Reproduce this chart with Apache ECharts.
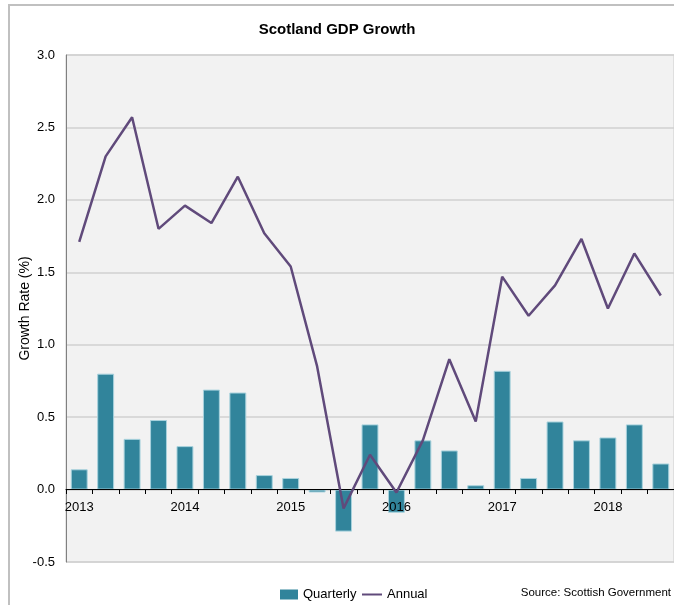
<!DOCTYPE html>
<html>
<head>
<meta charset="utf-8">
<script src="https://cdn.jsdelivr.net/npm/echarts@6/dist/echarts.min.js"></script>
<style>
    html, body { margin: 0; padding: 0; background: #fff; }
    #chart { width: 674px; height: 605px; }
</style>
</head>
<body>
<div id="chart"></div>
<script>
// quarters 2013 Q1 .. 2018 Q3
const quarters = [
    "2013 Q1", "2013 Q2", "2013 Q3", "2013 Q4",
    "2014 Q1", "2014 Q2", "2014 Q3", "2014 Q4",
    "2015 Q1", "2015 Q2", "2015 Q3", "2015 Q4",
    "2016 Q1", "2016 Q2", "2016 Q3", "2016 Q4",
    "2017 Q1", "2017 Q2", "2017 Q3", "2017 Q4",
    "2018 Q1", "2018 Q2", "2018 Q3"
];
const quarterly = [
    0.14, 0.80, 0.35, 0.48, 0.30, 0.69, 0.67, 0.10, 0.08, -0.02, -0.29, 0.45,
    -0.16, 0.34, 0.27, 0.03, 0.82, 0.08, 0.47, 0.34, 0.36, 0.45, 0.18
];
const annual = [
    1.71, 2.30, 2.57, 1.80, 1.96, 1.84, 2.16, 1.77, 1.54, 0.85, -0.13, 0.24,
    -0.02, 0.34, 0.90, 0.47, 1.47, 1.20, 1.41, 1.73, 1.25, 1.63, 1.34
];
const yTicks = { min: -0.5, max: 3.0, step: 0.5 };

const font = "'Liberation Sans', Arial, sans-serif";

let chart = echarts.init(document.getElementById("chart"));
chart.setOption({
    animation: false,
    title: {
        text: "Scotland GDP Growth",
        left: "center",
        top: 17,
        textStyle: { fontFamily: font, fontSize: 15, fontWeight: "bold", color: "#000" }
    },
    legend: [
        {
            left: 280,
            top: 588,
            padding: 0,
            itemWidth: 18,
            itemHeight: 10,
            itemStyle: { borderWidth: 0 },
            data: [{ name: "Quarterly", icon: "rect" }],
            textStyle: { fontFamily: font, fontSize: 13, color: "#000" }
        },
        {
            left: 362,
            top: 588,
            padding: 0,
            itemWidth: 20,
            itemHeight: 2,
            data: [{ name: "Annual", icon: "rect" }],
            textStyle: { fontFamily: font, fontSize: 13, color: "#000" }
        }
    ],
    graphic: [
        {
            type: "rect",
            shape: { x: 9, y: 5, width: 700, height: 700 },
            style: { fill: "none", stroke: "#c0c0c0", lineWidth: 2 },
            silent: true
        },
        {
            type: "text",
            right: 3,
            top: 587,
            style: { text: "Source: Scottish Government", fontFamily: font, fontSize: 11.5, fill: "#000" }
        }
    ],
    grid: {
        left: 66,
        top: 55,
        width: 614,
        height: 507,
        show: true,
        backgroundColor: "#f2f2f2",
        borderColor: "#cccccc",
        borderWidth: 1
    },
    xAxis: {
        type: "category",
        data: quarters,
        position: "bottom",
        offset: -73,
        z: 3,
        axisLine: { onZero: false, lineStyle: { color: "#000", width: 1 } },
        axisTick: { show: true, interval: 0, length: 5, lineStyle: { color: "#000" } },
        axisLabel: {
            interval: 3,
            margin: 12,
            fontFamily: font,
            fontSize: 13,
            color: "#000",
            formatter: (v) => v.split(" ")[0]
        }
    },
    yAxis: {
        type: "value",
        min: yTicks.min,
        max: yTicks.max,
        interval: yTicks.step,
        name: "Growth Rate (%)",
        nameLocation: "middle",
        nameGap: 34,
        nameMoveOverlap: false,
        nameTextStyle: { fontFamily: font, fontSize: 14, color: "#000" },
        axisLine: { show: true, lineStyle: { color: "#808080", width: 1 } },
        axisTick: { show: false },
        axisLabel: {
            margin: 11,
            fontFamily: font,
            fontSize: 13,
            color: "#000",
            formatter: (v) => v.toFixed(1)
        },
        splitLine: { lineStyle: { color: "#d0d0d0", width: 1.5 } }
    },
    series: [
        {
            name: "Quarterly",
            type: "bar",
            data: quarterly,
            barWidth: "64%",
            itemStyle: { color: "#31849b", borderColor: "#a8d2dd", borderWidth: 1 }
        },
        {
            name: "Annual",
            type: "line",
            data: annual,
            symbol: "none",
            z: 4,
            lineStyle: { color: "#604a7b", width: 2.5 },
            itemStyle: { color: "#604a7b" }
        }
    ]
});
</script>
</body>
</html>
